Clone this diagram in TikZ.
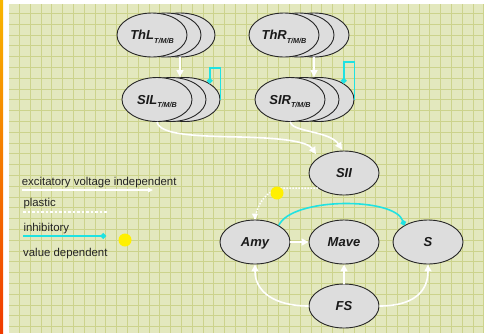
\documentclass[tikz,border=0pt]{standalone}
\usepackage{fontspec}
\setmainfont{Liberation Sans}
\usetikzlibrary{shapes.geometric,arrows.meta}
\definecolor{bgc}{HTML}{E3E8BE}
\definecolor{gridc}{HTML}{CCD38C}
\definecolor{nodefill}{HTML}{DDDDDD}
\definecolor{cyanc}{HTML}{20E2E2}
\definecolor{yel}{HTML}{FFF000}
\definecolor{txt}{HTML}{222222}
\definecolor{orgtop}{HTML}{F8B600}
\definecolor{orgbot}{HTML}{F03A00}
\newcommand\subTMB{\raisebox{-3.5pt}{\fontsize{7.2}{7}\selectfont T/M/B}}
\begin{document}
\begin{tikzpicture}[x=1pt,y=-1pt,
 region/.style={ellipse,draw=black!85,line width=0.9pt,fill=nodefill,minimum width=70pt,minimum height=44pt,inner sep=0pt,font=\fontsize{13}{13}\selectfont\bfseries\itshape,text=black!90,text height=9.3pt,text depth=0pt},
 exc/.style={draw=white,line width=1.6pt,-{Triangle[length=7pt,width=7pt]}},
 legexc/.style={draw=white,line width=1.2pt,-{Triangle[length=5pt,width=4.5pt]}},
 inh/.style={draw=cyanc,line width=1.6pt,-{Circle[length=5.5pt]}},
 plast/.style={draw=white,line width=1.5pt,dash pattern=on 1.5pt off 1.5pt},
 legplast/.style={draw=white,line width=2.5pt,dash pattern=on 2.5pt off 2pt},
 vdot/.style={circle,fill=yel,minimum size=13pt,inner sep=0pt},
 legtext/.style={anchor=base west,font=\fontsize{11.4}{12}\selectfont,text=txt,inner sep=0pt},
 gridline/.style={draw=gridc,line width=0.8pt},
]
\useasboundingbox (0,0) rectangle (484,333);
% background
\fill[white] (0,0) rectangle (484,333);
\shade[top color=orgtop,bottom color=orgbot] (0,0) rectangle (3,333);
\fill[bgc] (9,4) rectangle (484,333);
\foreach \i in {0,...,43} \draw[gridline] ({19.3+10.8*\i},4) -- ({19.3+10.8*\i},333);
\foreach \i in {0,...,29} \draw[gridline] (9,{13.3+10.8*\i}) -- (484,{13.3+10.8*\i});

% stacked regions
\node[region] (ThL3) at (180,35) {};
\node[region] (ThL2) at (166,35) {};
\node[region] (ThL) at (152,35) {ThL\subTMB};
\node[region] (ThR3) at (314,35) {};
\node[region] (ThR2) at (299,35) {};
\node[region] (ThR) at (284,35) {ThR\subTMB};
\node[region] (SIL3) at (185,99.5) {};
\node[region] (SIL2) at (171,99.5) {};
\node[region] (SIL) at (157,99.5) {SIL\subTMB};
\node[region] (SIR3) at (319,99.5) {};
\node[region] (SIR2) at (304,99.5) {};
\node[region] (SIR) at (290,99.5) {SIR\subTMB};

\node[region] (SII) at (344,173) {SII};
\node[region] (Amy) at (255,242) {Amy};
\node[region] (Mave) at (344,242) {Mave};
\node[region] (S) at (428,242) {S};
\node[region] (FS) at (344,306) {FS};

% thalamus -> SI
\draw[exc] (ThL3.south) -- (ThL3.south |- SIL3.north);
\draw[exc] (ThR3.south) -- (ThR3.south |- SIR3.north);

% self inhibition
\coordinate (silTop) at (221,68);
\coordinate (sirTop) at (354,62);
\draw[inh] (SIL3.east) -- (SIL3.east |- silTop) -| (SIL3.33);
\draw[inh] (SIR3.east) -- (SIR3.east |- sirTop) -| (SIR3.33);

% SI -> SII
\draw[exc] (SIL.south) .. controls (160,135) and (195,136) .. (240,137) .. controls (285,138) and (308,142) .. ([shift={(-3,-3)}]SII.north west);
\draw[exc] (SIR.south) .. controls (292,132) and (330,131) .. ([shift={(-2,-1)}]SII.north);

% SII -> Amy plastic, value dependent
\coordinate (vd) at (283,188);
\draw[plast] (SII.210) -- (vd) .. controls (266,190) and (257,204) .. (Amy.north);
\draw[white,line width=1.5pt,-{Triangle[length=6pt,width=6pt]}] ([yshift=1pt]Amy.north) -- (Amy.north);
\node[vdot] (vdot1) at (277,193) {};

% amygdala inhibition of S
\draw[inh] (Amy.35) .. controls (292,197) and (395,197) .. (S.145);

% excitatory lower
\draw[exc] (Amy.east) -- (Mave.west);
\draw[exc] (FS.north) -- (Mave.south);
\draw[exc] (FS.west) .. controls (275,306) and (255,292) .. (Amy.south);
\draw[exc] (FS.east) .. controls (413,306) and (428,292) .. (S.south);

% legend
\node[legtext] (l1) at (21.7,185) {excitatory voltage independent};
\coordinate (l1a) at (22,190);
\coordinate (l1b) at (153,190);
\draw[legexc] (l1a) -- (l1b);
\node[legtext] (l2) at (23.3,206.7) {plastic};
\coordinate (l2a) at (23,212);
\coordinate (l2b) at (108,212);
\draw[legplast] (l2a) -- (l2b);
\node[legtext] (l3) at (23.3,231.7) {inhibitory};
\coordinate (l3a) at (23,236);
\coordinate (l3b) at (106,236);
\draw[inh] (l3a) -- (l3b);
\node[vdot] (l4dot) at (125,240) {};
\node[legtext] (l4) at (23,256) {value dependent};
\end{tikzpicture}
\end{document}
